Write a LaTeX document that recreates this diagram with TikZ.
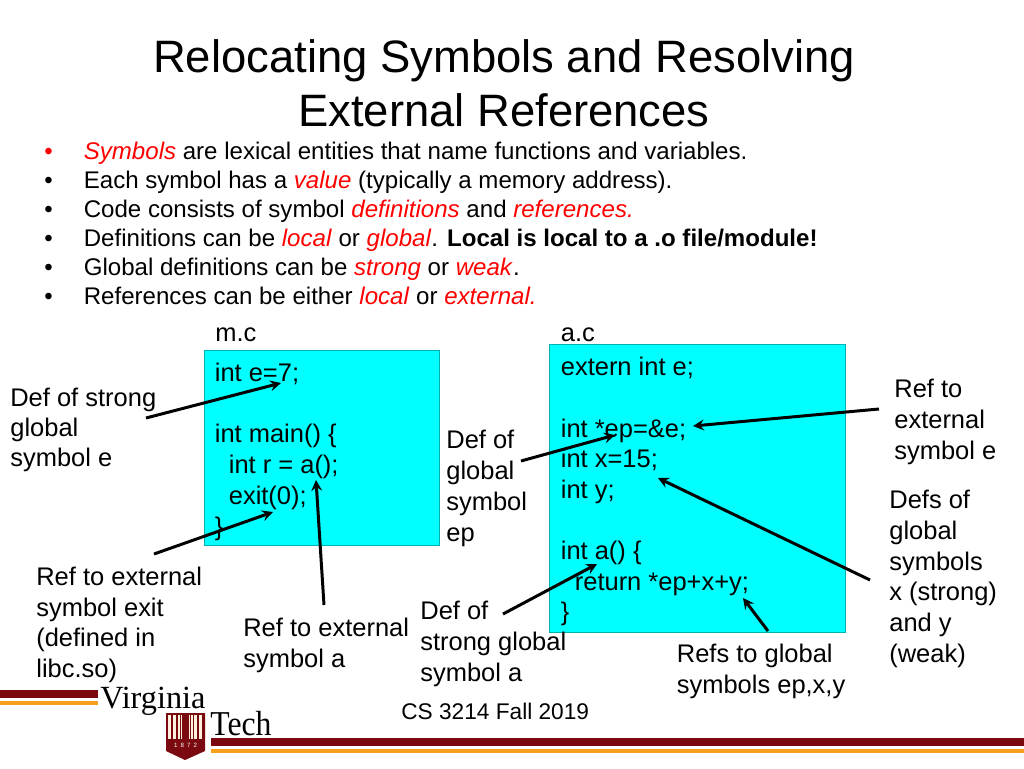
\documentclass[tikz,border=0pt]{standalone}
\usepackage{fontspec}
\setmainfont{Liberation Sans}
\newfontfamily\logofont{Liberation Serif}
\definecolor{boxcyan}{HTML}{00FFFF}
\definecolor{vtmaroon}{HTML}{7A0A10}
\definecolor{vtorange}{HTML}{F7A11A}
\newcommand{\redword}[1]{\textcolor{red}{\textit{#1}}}
\tikzset{
	titletext/.style={anchor=base, inner sep=0pt, font=\fontsize{25.85}{30.7}\selectfont},
	bullettext/.style={anchor=base west, inner sep=0pt, font=\fontsize{13.7}{16.5}\selectfont},
	labeltext/.style={anchor=base west, inner sep=0pt, font=\fontsize{14.5}{17.4}\selectfont},
	logotext/.style={anchor=base west, inner sep=0pt, font=\logofont\fontsize{18.4}{20}\selectfont},
	codebox/.style={fill=boxcyan, draw=black!30!boxcyan, line width=0.4pt},
	pointer/.style={line width=1.7pt, ->},
}
\begin{document}
\begin{tikzpicture}[x=0.02cm, y=-0.02cm, >=stealth]
	\useasboundingbox (0,0) rectangle (1024,768);
	% Titulo
	\node[titletext] (title1) at (504,72) {Relocating Symbols and Resolving};
	\node[titletext] (title2) at (504,126) {External References};

	% Lista
	\foreach \ypos/\item [count=\n] in {
		159.5/{\redword{Symbols} are lexical entities that name functions and variables.},
		188.5/{Each symbol has a \redword{value} (typically a memory address).},
		217.5/{Code consists of symbol \redword{definitions} and \redword{references.}},
		246.5/{Definitions can be \redword{local} or \redword{global}. \textbf{Local is local to a .o file/module!}},
		275.5/{Global definitions can be \redword{strong} or \redword{weak}.},
		304.5/{References can be either \redword{local} or \redword{external.}}} {
		\node[bullettext] (dot\n) at (44,\ypos) {\ifnum\n=1 \textcolor{red}{\textbullet}\else\textbullet\fi};
		\node[bullettext] (item\n) at (83.5,\ypos) {\item};
	}

	% Caixas de codigo
	\node[labeltext] (mfile) at (215,341) {m.c};
	\node[labeltext] (afile) at (560.5,341) {a.c};
	\path[codebox] (204,350) rectangle (439.5,545);
	\path[codebox] (549,344) rectangle (845,632);
	\node[labeltext] (mcode) at (214.5,381) {int e=7;};
	\node[labeltext] (mmain) at (214.5,442) {int main() \{};
	\node[labeltext] (mint) at (228.5,473) {int r = a();};
	\node[labeltext] (mexit) at (228.5,504) {exit(0);};
	\node[labeltext] (mend) at (214.5,535) {\}};
	\node[labeltext] (aext) at (560.5,375) {extern int e;};
	\node[labeltext] (aep) at (560.5,437) {int *ep=\&e;};
	\node[labeltext] (ax) at (560.5,467) {int x=15;};
	\node[labeltext] (ay) at (560.5,498) {int y;};
	\node[labeltext] (aa) at (560.5,559) {int a() \{};
	\node[labeltext] (aret) at (574.5,590) {return *ep+x+y;};
	\node[labeltext] (aend) at (560.5,620) {\}};

	% Rotulos
	\foreach \xpos/\ypos/\name/\lines in {
		10/406/lbstrong/{Def of strong},
		10/436/lbstrongb/{global},
		10/466/lbstrongc/{symbol e},
		36/585/lbexit/{Ref to external},
		36/616/lbexitb/{symbol exit},
		36/646/lbexitc/{(defined in},
		36/677/lbexitd/{libc.so)},
		243/636/lbref/{Ref to external},
		243/667/lbrefb/{symbol a},
		420/619/lbdefa/{Def of},
		420/650/lbdefab/{strong global},
		420/681/lbdefac/{symbol a},
		446/448/lbep/{Def of},
		446/479/lbepb/{global},
		446/510/lbepc/{symbol},
		446/541/lbepd/{ep},
		894/397/lbrefe/{Ref to},
		894/428/lbrefeb/{external},
		894/459/lbrefec/{symbol e},
		889/508/lbdefs/{Defs of},
		889/539/lbdefsb/{global},
		889/570/lbdefsc/{symbols},
		889/600/lbdefsd/{x (strong)},
		889/631/lbdefse/{and y},
		889/662/lbdefsf/{(weak)},
		676.5/662/lbglob/{Refs to global},
		676.5/693/lbglobb/{symbols ep,x,y}} {
		\node[labeltext] (\name) at (\xpos,\ypos) {\lines};
	}
	\node[anchor=base west, inner sep=0pt, font=\fontsize{12.9}{15}\selectfont] (course) at (401,719) {CS 3214 Fall 2019};

	% Setas
	\coordinate (e1) at (146,418);
	\coordinate (e2) at (281,383);
	\coordinate (x1) at (154,554);
	\coordinate (x2) at (273,512);
	\coordinate (a1) at (324,605);
	\coordinate (a2) at (316,480);
	\coordinate (p1) at (521,461);
	\coordinate (p2) at (615,435);
	\coordinate (r1) at (879,409);
	\coordinate (r2) at (693,426);
	\coordinate (d1) at (870,580);
	\coordinate (d2) at (658,478);
	\coordinate (f1) at (503,614);
	\coordinate (f2) at (597,564);
	\coordinate (g1) at (768,631);
	\coordinate (g2) at (743,598);
	\draw[pointer] (e1) -- (e2);
	\draw[pointer] (x1) -- (x2);
	\draw[pointer] (a1) -- (a2);
	\draw[pointer] (p1) -- (p2);
	\draw[pointer] (r1) -- (r2);
	\draw[pointer] (d1) -- (d2);
	\draw[pointer] (f1) -- (f2);
	\draw[pointer] (g1) -- (g2);

	% Logo
	\fill[vtmaroon] (0,690) rectangle (98,698);
	\fill[vtorange] (0,701) rectangle (98,705);
	\fill[vtmaroon] (211,738) rectangle (1024,746);
	\fill[vtorange] (211,749) rectangle (1024,753);
	\node[logotext] (virginia) at (100,708) {Virginia};
	\node[logotext] (tech) at (210,735) {\scalebox{0.98}[1.08]{Tech}};
	\fill[vtmaroon] (166,713) -- (205,713) -- (205,751) -- (185,760) -- (166,751) -- cycle;
	\foreach \xbar/\wbar in {168/3,172.5/3.5,178/1.5,181/1,189/1,191/1.5,194/3,198.5/3.5}
		\fill[white!85!vtorange] (\xbar,715) rectangle +(\wbar,24);
	\node[text=white, font=\fontsize{3.5}{4}\selectfont, inner sep=0pt] (year) at (185.5,745) {1\,\,\,8\,\,\,7\,\,\,2};
\end{tikzpicture}
\end{document}
